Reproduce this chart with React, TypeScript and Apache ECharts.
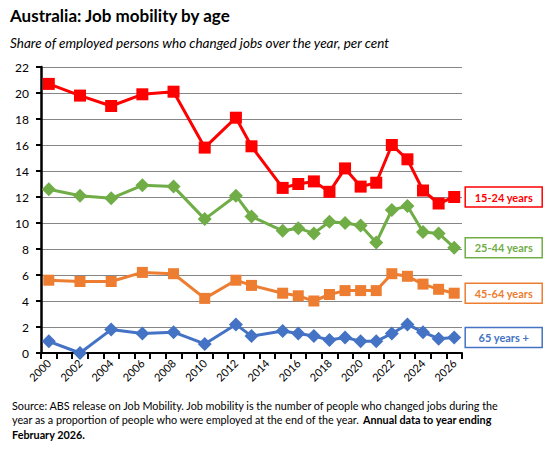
import React, { useEffect, useRef } from "react";
import * as echarts from "echarts";

const axisYears = [
  "2000", "2001", "2002", "2003", "2004", "2005", "2006", "2007", "2008", "2009",
  "2010", "2011", "2012", "2013", "2014", "2015", "2016", "2017", "2018", "2019",
  "2020", "2021", "2022", "2023", "2024", "2025", "2026",
];

const surveyYears = [
  "2000", "2002", "2004", "2006", "2008", "2010", "2012", "2013", "2015", "2016",
  "2017", "2018", "2019", "2020", "2021", "2022", "2023", "2024", "2025", "2026",
];

const age15to24 = [20.7, 19.8, 19.0, 19.9, 20.1, 15.8, 18.1, 15.9, 12.7, 13.0, 13.2, 12.4, 14.2, 12.8, 13.1, 16.0, 14.9, 12.5, 11.5, 12.0];
const age25to44 = [12.6, 12.1, 11.9, 12.9, 12.8, 10.3, 12.1, 10.5, 9.4, 9.6, 9.2, 10.1, 10.0, 9.8, 8.5, 11.0, 11.3, 9.3, 9.2, 8.1];
const age45to64 = [5.6, 5.5, 5.5, 6.2, 6.1, 4.2, 5.6, 5.2, 4.6, 4.4, 4.0, 4.5, 4.8, 4.8, 4.8, 6.1, 5.9, 5.3, 4.9, 4.6];
const age65plus = [0.9, 0.0, 1.8, 1.5, 1.6, 0.7, 2.2, 1.3, 1.7, 1.5, 1.3, 1.0, 1.2, 0.9, 0.9, 1.5, 2.2, 1.6, 1.1, 1.2];

const seriesNames = ["15-24 years", "25-44 years", "45-64 years", "65 years +"];
const seriesColors = ["#FF0000", "#70AD47", "#ED7D31", "#4472C4"];
const seriesSymbols = ["rect", "diamond", "rect", "diamond"];
const seriesSymbolSizes = [12, 14, 11, 14];
const seriesValues = [age15to24, age25to44, age45to64, age65plus];

const FONT = "Lato, 'Open Sans', sans-serif";

export default function App() {
  const ref = useRef<HTMLDivElement>(null);

  useEffect(() => {
    document.body.style.margin = "0";
    if (!ref.current) return;
    const chart = echarts.init(ref.current, null, { renderer: "svg" });

    const series = seriesValues.map((vals, i) => ({
      name: seriesNames[i],
      type: "line",
      data: vals.map((v, j) => [surveyYears[j], v]),
      symbol: seriesSymbols[i],
      symbolSize: seriesSymbolSizes[i],
      showAllSymbol: true,
      lineStyle: { color: seriesColors[i], width: 3 },
      itemStyle: { color: seriesColors[i] },
      z: 10 - i,
    }));

    chart.setOption({
      animation: false,
      textStyle: { fontFamily: FONT },
      grid: { left: 41, right: 86, top: 67, bottom: 101, containLabel: false, outerBoundsMode: "none" },
      xAxis: {
        type: "category",
        data: axisYears,
        boundaryGap: true,
        axisLine: { lineStyle: { color: "#000", width: 2 } },
        axisTick: { show: true, interval: 0, length: 6, lineStyle: { color: "#000", width: 2 } },
        axisLabel: {
          interval: 1,
          rotate: 45,
          margin: 8,
          color: "#000",
          fontSize: 11,
          fontFamily: FONT,
        },
        splitLine: { show: false },
      },
      yAxis: {
        type: "value",
        min: 0,
        max: 22,
        interval: 2,
        axisLine: { show: true, lineStyle: { color: "#000", width: 2.5 } },
        axisTick: { show: true, length: 5, lineStyle: { color: "#000", width: 2 } },
        axisLabel: { color: "#000", fontSize: 12, margin: 12, fontFamily: FONT },
        splitLine: { show: true, lineStyle: { color: "#868686", width: 1 } },
      },
      series,
    });

    const boxW = 77;
    const boxH = 20;
    const labelGraphics: any[] = seriesValues.map((vals, i) => {
      const last = vals.length - 1;
      const [px, py] = chart.convertToPixel({ gridIndex: 0 }, [surveyYears[last], vals[last]]) as number[];
      const x0 = px + 11;
      return {
        type: "group",
        children: [
          {
            type: "rect",
            shape: { x: x0, y: py - boxH / 2, width: boxW, height: boxH },
            style: { fill: "#fff", stroke: seriesColors[i], lineWidth: 1.5 },
          },
          {
            type: "text",
            x: x0 + boxW / 2,
            y: py,
            style: {
              text: seriesNames[i],
              fill: seriesColors[i],
              font: `bold 11px ${FONT}`,
              align: "center",
              verticalAlign: "middle",
            },
          },
        ],
      };
    });

    chart.setOption({
      graphic: [
        {
          type: "text",
          left: 10,
          top: 7,
          style: {
            text: "Australia: Job mobility by age",
            fill: "#000",
            font: `bold 17px ${FONT}`,
          },
        },
        {
          type: "text",
          left: 10,
          top: 36,
          style: {
            text: "Share of employed persons who changed jobs over the year, per cent",
            fill: "#000",
            font: `italic 13.5px ${FONT}`,
          },
        },
        {
          type: "text",
          left: 12,
          top: 400,
          style: {
            text: "Source: ABS release on Job Mobility. Job mobility is the number of people who changed jobs during the",
            fill: "#000",
            font: `10.8px ${FONT}`,
          },
        },
        {
          type: "text",
          left: 12,
          top: 414,
          style: {
            text: "{n|year as a proportion of people who were employed at the end of the year. }{b|Annual data to year ending}",
            rich: {
              n: { fontSize: 10.8, fontFamily: FONT, fill: "#000", color: "#000" },
              b: { fontSize: 10.8, fontFamily: FONT, fontWeight: "bold", fill: "#000", color: "#000" },
            },
          },
        },
        {
          type: "text",
          left: 12,
          top: 429,
          style: {
            text: "February 2026.",
            fill: "#000",
            font: `bold 10.8px ${FONT}`,
          },
        },
        ...labelGraphics,
      ],
    });

    return () => chart.dispose();
  }, []);

  return <div ref={ref} style={{ width: 548, height: 454 }} />;
}
